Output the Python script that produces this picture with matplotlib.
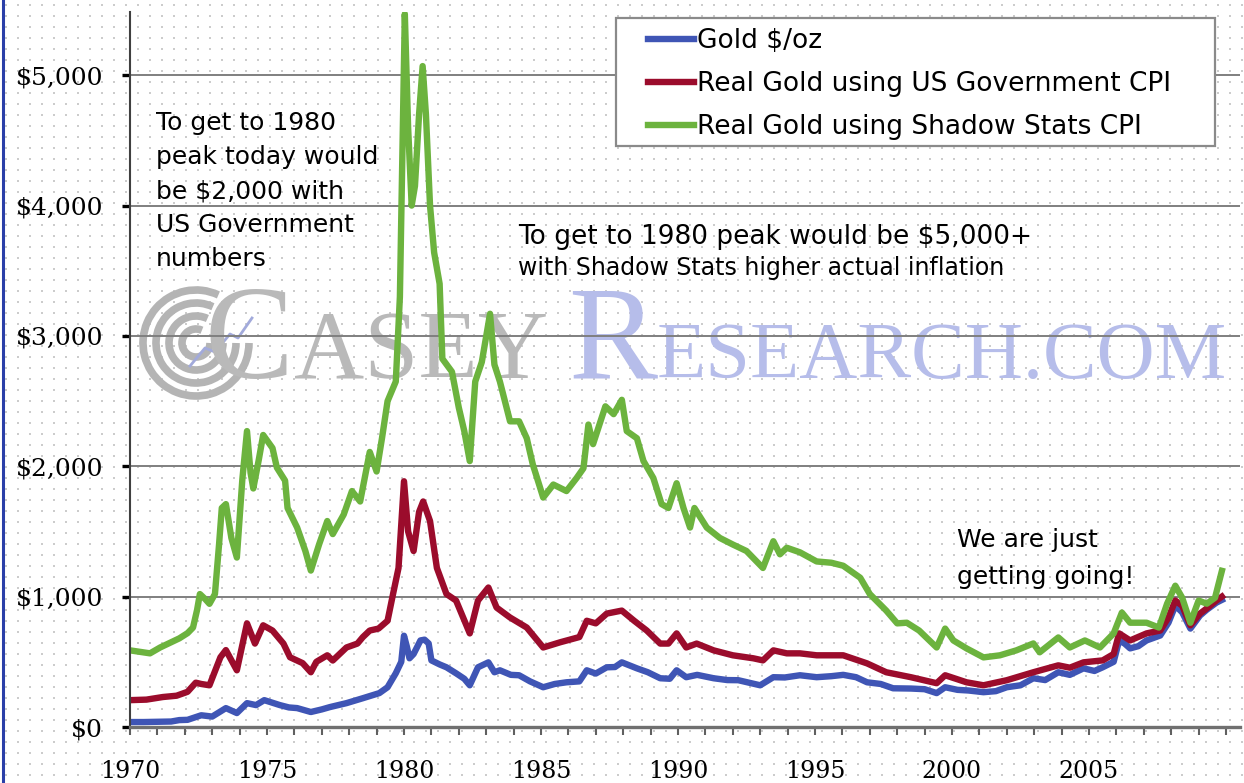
import matplotlib
matplotlib.use("Agg")
import matplotlib.pyplot as plt
import numpy as np
from matplotlib.patches import Arc, Rectangle
from matplotlib.ticker import MultipleLocator, FuncFormatter

# values (decimal year, $)
gold_t = [1970.0, 1970.5, 1971.0, 1971.5, 1971.8, 1972.1, 1972.4, 1972.6, 1973.0, 1973.5,
          1973.9, 1974.27, 1974.6, 1974.9, 1975.47, 1975.8, 1976.1, 1976.6, 1977.0, 1977.3,
          1977.9, 1978.5, 1979.1, 1979.4, 1979.7, 1979.9, 1980.0, 1980.1, 1980.2, 1980.35,
          1980.6, 1980.75, 1980.9, 1981.0, 1981.3, 1981.55, 1981.9, 1982.2, 1982.4, 1982.7,
          1983.08, 1983.3, 1983.5, 1983.9, 1984.2, 1984.6, 1985.08, 1985.5, 1985.93, 1986.4,
          1986.67, 1987.0, 1987.4, 1987.7, 1987.95, 1988.5, 1988.9, 1989.35, 1989.7, 1989.95,
          1990.3, 1990.7, 1991.3, 1991.8, 1992.2, 1993.0, 1993.48, 1993.9, 1994.45, 1995.06,
          1995.6, 1996.03, 1996.5, 1996.9, 1997.4, 1997.85, 1998.5, 1999.0, 1999.44, 1999.75,
          2000.2, 2000.6, 2001.15, 2001.6, 2002.0, 2002.5, 2002.97, 2003.4, 2003.88, 2004.3,
          2004.8, 2005.2, 2005.5, 2005.9, 2006.1, 2006.3, 2006.5, 2006.8, 2007.1, 2007.6,
          2007.9, 2008.15, 2008.4, 2008.7, 2009.05, 2009.3, 2009.65, 2009.85]
gold_v = [38, 38, 40, 42, 53, 55, 76, 90, 80, 145,
          107, 183, 168, 206, 168, 150, 145, 115, 135, 153,
          183, 221, 260, 305, 412, 500, 700, 620, 527, 560,
          664, 670, 641, 511, 480, 458, 412, 370, 320, 458,
          496, 420, 435, 400, 397, 350, 305, 330, 343, 350,
          435, 410, 458, 460, 496, 450, 420, 374, 370, 435,
          382, 400, 374, 360, 359, 320, 382, 380, 397, 382,
          390, 400, 382, 343, 330, 297, 295, 290, 260, 305,
          285, 280, 267, 275, 305, 320, 374, 360, 420, 400,
          450, 430, 458, 500, 664, 640, 603, 620, 664, 702,
          800, 931, 880, 755, 855, 900, 954, 975]

cpi_t = [1970.0, 1970.6, 1971.2, 1971.7, 1972.1, 1972.4, 1972.6, 1972.9, 1973.3, 1973.5,
         1973.9, 1974.27, 1974.56, 1974.86, 1975.2, 1975.6, 1975.84, 1976.3, 1976.6, 1976.8,
         1977.2, 1977.4, 1977.9, 1978.3, 1978.5, 1978.75, 1979.07, 1979.4, 1979.6, 1979.8,
         1980.0, 1980.15, 1980.35, 1980.55, 1980.7, 1980.95, 1981.2, 1981.55, 1981.9, 1982.4,
         1982.7, 1983.08, 1983.38, 1983.87, 1984.48, 1985.08, 1985.7, 1986.4, 1986.67, 1987.0,
         1987.4, 1987.95, 1988.4, 1988.86, 1989.35, 1989.65, 1989.95, 1990.3, 1990.68, 1991.3,
         1992.0, 1992.75, 1993.1, 1993.48, 1993.97, 1994.45, 1995.06, 1996.03, 1996.9, 1997.6,
         1998.5, 1999.44, 1999.75, 2000.53, 2001.15, 2002.0, 2002.97, 2003.88, 2004.3, 2004.8,
         2005.5, 2005.9, 2006.1, 2006.5, 2007.1, 2007.6, 2007.9, 2008.15, 2008.4, 2008.7,
         2009.05, 2009.3, 2009.65, 2009.85]
cpi_v = [206, 210, 230, 240, 270, 340, 330, 320, 535, 590,
         435, 795, 640, 780, 740, 640, 535, 490, 420, 500,
         550, 510, 610, 640, 690, 740, 755, 815, 1020, 1220,
         1885, 1500, 1350, 1650, 1730, 1580, 1220, 1020, 970, 718,
         970, 1070, 916, 840, 763, 610, 650, 690, 815, 795,
         870, 893, 815, 740, 640, 640, 718, 610, 640, 588,
         550, 527, 511, 588, 565, 565, 550, 550, 488, 420,
         382, 336, 397, 343, 320, 359, 420, 473, 455, 496,
         511, 560, 718, 664, 718, 740, 840, 970, 930, 780,
         870, 910, 970, 1000]

shadow_t = [1970.0, 1970.4, 1970.73, 1971.1, 1971.5, 1971.8, 1972.1, 1972.3, 1972.45, 1972.55,
            1972.75, 1972.9, 1973.1, 1973.25, 1973.35, 1973.5, 1973.7, 1973.9, 1974.1, 1974.27,
            1974.4, 1974.5, 1974.7, 1974.86, 1975.2, 1975.36, 1975.66, 1975.75, 1976.1, 1976.4,
            1976.6, 1976.9, 1977.2, 1977.4, 1977.8, 1978.1, 1978.4, 1978.75, 1979.0, 1979.2,
            1979.4, 1979.7, 1979.85, 1979.95, 1980.03, 1980.15, 1980.28, 1980.4, 1980.55, 1980.68,
            1980.8, 1980.95, 1981.1, 1981.3, 1981.4, 1981.75, 1982.0, 1982.2, 1982.4, 1982.6,
            1982.84, 1983.14, 1983.3, 1983.5, 1983.87, 1984.2, 1984.48, 1984.7, 1985.08, 1985.45,
            1985.93, 1986.3, 1986.55, 1986.73, 1986.9, 1987.35, 1987.65, 1987.95, 1988.13, 1988.5,
            1988.74, 1989.1, 1989.4, 1989.65, 1989.95, 1990.2, 1990.44, 1990.6, 1991.05, 1991.53,
            1992.0, 1992.5, 1993.1, 1993.48, 1993.72, 1993.97, 1994.45, 1995.06, 1995.6, 1996.03,
            1996.65, 1997.0, 1997.6, 1998.0, 1998.35, 1998.8, 1999.44, 1999.75, 2000.05, 2000.53,
            2001.15, 2001.75, 2002.35, 2002.97, 2003.2, 2003.88, 2004.3, 2004.85, 2005.4, 2005.9,
            2006.2, 2006.5, 2007.1, 2007.55, 2007.85, 2008.15, 2008.4, 2008.7, 2009.0, 2009.3,
            2009.6, 2009.85]
shadow_v = [588, 575, 565, 610, 650, 680, 720, 763, 900, 1020,
            980, 945, 1020, 1400, 1680, 1710, 1450, 1300, 1900, 2270,
            1950, 1830, 2050, 2240, 2140, 1990, 1890, 1680, 1530, 1350,
            1200, 1400, 1580, 1480, 1630, 1810, 1730, 2110, 1960, 2220,
            2500, 2650, 3300, 4500, 5470, 4600, 4000, 4150, 4700, 5070,
            4700, 4000, 3640, 3400, 2825, 2725, 2450, 2270, 2040, 2650,
            2800, 3170, 2780, 2650, 2345, 2345, 2215, 2015, 1760, 1860,
            1810, 1910, 1985, 2320, 2170, 2460, 2400, 2510, 2270, 2215,
            2040, 1910, 1710, 1680, 1870, 1680, 1530, 1680, 1530, 1450,
            1400, 1350, 1220, 1425, 1325, 1375, 1340, 1270, 1260, 1237,
            1145, 1020, 893, 795, 800, 740, 610, 755, 664, 603,
            534, 550, 588, 641, 573, 687, 610, 664, 610, 718,
            878, 800, 800, 763, 946, 1084, 992, 800, 970, 946,
            992, 1198]

labels = ["Gold $/oz", "Real Gold using US Government CPI", "Real Gold using Shadow Stats CPI"]
colors = ["#3f55b5", "#9b0c2c", "#6cb33e"]

note_left = ["To get to 1980", "peak today would", "be $2,000 with", "US Government", "numbers"]

plt.rcParams['font.family'] = 'DejaVu Serif'
sans = 'DejaVu Sans'

fig = plt.figure(figsize=(12.44, 7.83), dpi=100)
fig.patch.set_facecolor('white')

# background layer in pixel units (watermark, dots)
bg = fig.add_axes([0, 0, 1, 1], zorder=0)
bg.set_xlim(0, 1244)
bg.set_ylim(783, 0)
bg.axis('off')
gx, gy = np.meshgrid(np.arange(6, 1244, 12), np.arange(5, 783, 11))
bg.scatter(gx.ravel(), gy.ravel(), s=1.2, c='#cccccc', marker='s', linewidths=0)
bg.plot([3, 3], [0, 783], color='#2a3fa8', lw=2.2)

# casey research logo / watermark
for r in [14, 27, 40, 53]:
    bg.add_patch(Arc((196, 343), 2 * r, 2 * r, theta1=0, theta2=295,
                     color='#b4b4b4', lw=5.5))
bg.plot([190, 205, 215, 230, 238, 252], [366, 348, 352, 334, 338, 318],
        color='#a2aadb', lw=2)

renderer = fig.canvas.get_renderer()

def watermark(parts, x, y, color):
    for s, size in parts:
        t = bg.text(x, y, s, fontsize=size, family='Liberation Serif',
                    color=color, va='baseline', ha='left')
        x += t.get_window_extent(renderer).width

watermark([("C", 96), ("ASEY", 70)], 205, 378, '#b9b9b9')
watermark([("R", 96), ("ESEARCH.COM", 58)], 568, 378, '#b6bdea')

# main chart
ax = fig.add_axes([130 / 1244, 1 - 727 / 783, (1240 - 130) / 1244, (727 - 12) / 783], zorder=1)
ax.patch.set_alpha(0)

ax.plot(gold_t, gold_v, color=colors[0], lw=4.6, label=labels[0], solid_joinstyle='round')
ax.plot(cpi_t, cpi_v, color=colors[1], lw=4.6, label=labels[1], solid_joinstyle='round')
ax.plot(shadow_t, shadow_v, color=colors[2], lw=4.6, label=labels[2], solid_joinstyle='round')

ax.set_xlim(1970, 1970 + (1240 - 130) / 27.4)
ax.set_ylim(0, 5485)

ax.yaxis.set_major_locator(MultipleLocator(1000))
ax.yaxis.set_major_formatter(FuncFormatter(lambda v, p: '${:,.0f}'.format(v)))
ax.xaxis.set_major_locator(MultipleLocator(5))
ax.xaxis.set_minor_locator(MultipleLocator(1))
ax.xaxis.set_major_formatter(FuncFormatter(lambda v, p: '%d' % v if v <= 2005 else ''))

ax.yaxis.grid(True, color='#7f7f7f', lw=1.4)
ax.set_axisbelow(True)

ax.tick_params(axis='y', direction='out', length=6, width=2.4, color='black',
               pad=13.5, labelsize=18)
ax.tick_params(axis='x', which='both', direction='out', length=5.5, width=1.5,
               color='#606060', pad=18, labelsize=17)

for side in ['top', 'right']:
    ax.spines[side].set_visible(False)
ax.spines['left'].set_color('#404040')
ax.spines['left'].set_linewidth(1.5)
ax.spines['bottom'].set_color('#707070')
ax.spines['bottom'].set_linewidth(2.4)

# legend box drawn by hand so it covers the grid line like the original
ax.add_patch(Rectangle((616, 18), 599, 128, transform=bg.transData, facecolor='white',
                       edgecolor='#8a8a8a', lw=1.6, zorder=4, clip_on=False))
leg = ax.legend(loc='upper left', bbox_to_anchor=(648 / 1244, 1 - 28 / 783),
                bbox_transform=fig.transFigure, prop={'family': sans, 'size': 19},
                frameon=False, handlelength=1.75, handletextpad=0.1,
                labelspacing=0.64, borderpad=0, borderaxespad=0)
leg.set_zorder(5)

# annotations
for i, line in enumerate(note_left):
    bg.text(156, 123 + 34 * i, line, family=sans, fontsize=18, va='center', ha='left')
bg.text(518, 237, "To get to 1980 peak would be $5,000+", family=sans, fontsize=19,
        va='center', ha='left')
bg.text(518, 268, "with Shadow Stats higher actual inflation", family=sans, fontsize=17,
        va='center', ha='left')
bg.text(957, 540, "We are just", family=sans, fontsize=18, va='center', ha='left')
bg.text(957, 577, "getting going!", family=sans, fontsize=18, va='center', ha='left')

fig.savefig("out.png", dpi=100)
